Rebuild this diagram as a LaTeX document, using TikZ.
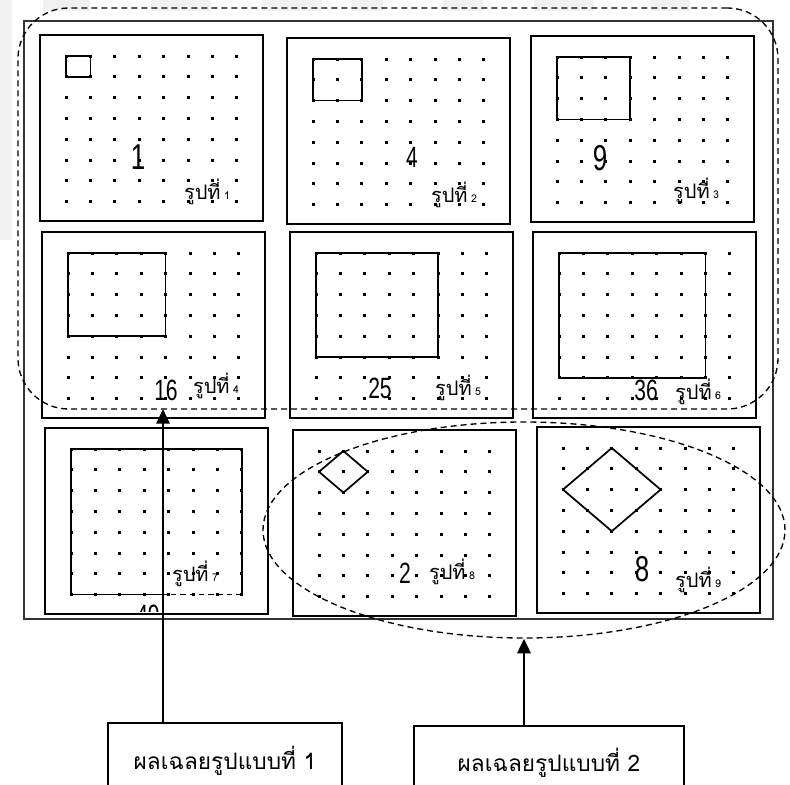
\documentclass[tikz,border=0pt]{standalone}
\usepackage{fontspec}
\setmainfont{Liberation Sans}
\newfontfamily\thaifont[Script=Thai]{Loma}
\usetikzlibrary{arrows.meta, positioning, shapes.geometric}
\newcommand\hand[1]{\scalebox{0.72}[1]{#1}}

\begin{document}
\begin{tikzpicture}[x=0.75pt, y=-0.75pt,
    panel/.style = {line width=2.2pt},
    sq/.style = {line width=1.3pt, line join=round},
    num/.style = {font=\fontsize{22}{22}\selectfont, inner sep=0pt},
    big/.style = {font=\fontsize{27}{27}\selectfont, inner sep=0pt},
    tag/.style = {font=\thaifont\fontsize{15}{15}\selectfont, inner sep=0pt},
    grp/.style = {draw, line width=1pt, dash pattern=on 4.5pt off 3pt, inner sep=0pt},
    lbl/.style = {draw, line width=0.8pt, inner sep=0pt, font=\thaifont\fontsize{17}{20}\selectfont},
    arr/.style = {-{Triangle[width=10pt,length=11pt]}, line width=1.5pt} ]
  \useasboundingbox (0,0) rectangle (790,785);
  \clip (0,0) rectangle (790,785);
  % faint scan marks
  \foreach \a/\b in {43/90, 151/211, 262/322, 352/383, 443/483, 534/594, 650/690}
    \fill[gray!12] (\a,0) rectangle (\b,11);
  \fill[gray!10] (0,0) rectangle (12,240);
  % outer frame
  \draw[line width=0.8pt, black!80] (24,21) rectangle (773,619);
  % the nine dot papers, squares 1..6
  \foreach \pl/\pu [count=\k] in {40/35, 287/38, 531/36, 42/232, 290/232, 533/232, 45/428, 293/430, 537/427} {
    \draw[panel] (\pl,\pu) rectangle ++(223,186);
    \foreach \i in {0,...,7}
      \foreach \j in {0,...,7}
        \fill (\pl+26+24.4*\i-1.5, \pu+21+20.8*\j-1.5) rectangle ++(3,3);
    \ifnum\k<7
      \draw[sq] (\pl+26,\pu+21) rectangle ++(24.4*\k, 20.8*\k);
    \fi
  }
  \draw[sq] (164,594.6) -- (71,594.6) -- (71,449) -- (241.8,449) -- (241.8,594.6);
  \draw[sq, dash pattern=on 4pt off 3pt] (241.8,594.6) -- (164,594.6);
  % tilted squares
  \draw[sq] (319,471.8) -- (343.4,451) -- (367.8,471.8) -- (343.4,492.6) -- cycle;
  \draw[sq] (563,489.6) -- (611.8,448) -- (660.6,489.6) -- (611.8,531.2) -- cycle;
  % areas
  \node[big] (n1) at (138,157) {\hand{1}};
  \node[num] (n2) at (412,157) {\hand{4}};
  \node[big] (n3) at (600,158) {\hand{9}};
  \node[num] (n4) at (166,390) {\hand{16}};
  \node[num] (n5) at (380,388) {\hand{25}};
  \node[num] (n6) at (646,390) {\hand{36}};
  \node[num] (n8) at (405,573) {\hand{2}};
  \node[big] (n9) at (642,569) {\hand{8}};
  \begin{scope}
    \clip (120,598) rectangle (180,611);
    \node[num] (n7) at (148,615) {\hand{49}};
  \end{scope}
  % figure tags
  \node[tag] (t1) at (207,192) {รูปที่\,{\fontsize{8}{8}\selectfont 1}};
  \node[tag] (t2) at (454,195) {รูปที่\,{\fontsize{8}{8}\selectfont 2}};
  \node[tag] (t3) at (696,191) {รูปที่\,{\fontsize{8}{8}\selectfont 3}};
  \node[tag] (t4) at (216,386) {รูปที่\,{\fontsize{8}{8}\selectfont 4}};
  \node[tag] (t5) at (458,388) {รูปที่\,{\fontsize{8}{8}\selectfont 5}};
  \node[tag] (t6) at (698,392) {รูปที่\,{\fontsize{8}{8}\selectfont 6}};
  \node[tag] (t7) at (195,574) {รูปที่\,{\fontsize{8}{8}\selectfont 7}};
  \node[tag] (t8) at (452,572) {รูปที่\,{\fontsize{8}{8}\selectfont 8}};
  \node[tag] (t9) at (698,580) {รูปที่\,{\fontsize{8}{8}\selectfont 9}};
  % answer groups
  \node[grp, rounded corners=38pt, minimum width=570pt, minimum height=300.75pt] (grp1) at (398,208.5) {};
  \node[grp, ellipse, minimum width=391.5pt, minimum height=162pt] (grp2) at (524,530) {};
  \coordinate (hit1) at (163,409);
  % labels
  \node[lbl, minimum width=175.5pt, minimum height=57pt] (lbl1) at (225,761) {ผลเฉลยรูปแบบที่ 1};
  \node[lbl, minimum width=202.5pt, minimum height=55.5pt] (lbl2) at (549,763) {ผลเฉลยรูปแบบที่ 2};
  \draw[arr] (lbl1.north -| hit1) -- (hit1);
  \draw[arr] (lbl2.north -| grp2.south) -- (grp2.south);
\end{tikzpicture}
\end{document}
